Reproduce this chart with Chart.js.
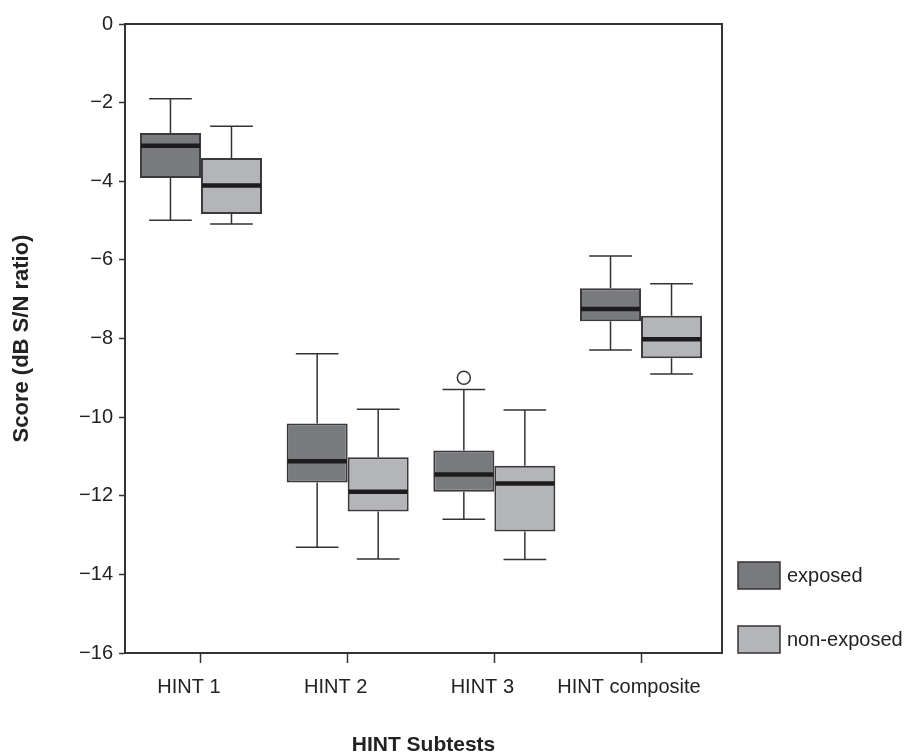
<!DOCTYPE html>
<html><head><meta charset="utf-8">
<script src="https://cdn.jsdelivr.net/npm/chart.js@4/dist/chart.umd.min.js"></script>
<style>html,body{margin:0;padding:0;background:#fff}#wrap{width:910px;height:753px}</style>
</head><body><div id="wrap"><canvas id="c" width="910" height="753"></canvas></div>
<script>
const categories = ['HINT 1', 'HINT 2', 'HINT 3', 'HINT composite'];
const seriesNames = ['exposed', 'non-exposed'];

const exposedMin     = [-4.99, -13.31, -12.60, -8.29];
const exposedQ1      = [-3.92, -11.66, -11.90, -7.56];
const exposedMedian  = [-3.10, -11.12, -11.46, -7.25];
const exposedQ3      = [-2.77, -10.16, -10.85, -6.72];
const exposedMax     = [-1.90,  -8.39,  -9.30, -5.90];
const exposedOutliers = [[], [], [-9.0], []];

const nonExposedMin     = [-5.09, -13.61, -13.62, -8.90];
const nonExposedQ1      = [-4.83, -12.40, -12.91, -8.50];
const nonExposedMedian  = [-4.11, -11.90, -11.69, -8.02];
const nonExposedQ3      = [-3.41, -11.02, -11.24, -7.42];
const nonExposedMax     = [-2.60,  -9.80,  -9.82, -6.61];
const nonExposedOutliers = [[], [], [], []];

const yTicks = [0, -2, -4, -6, -8, -10, -12, -14, -16];

const seriesStats = [
  {min: exposedMin, q1: exposedQ1, med: exposedMedian, q3: exposedQ3, max: exposedMax, out: exposedOutliers},
  {min: nonExposedMin, q1: nonExposedQ1, med: nonExposedMedian, q3: nonExposedQ3, max: nonExposedMax, out: nonExposedOutliers}
];
const fills = ['#797a7e', '#b4b5b9'];
const INK = '#333333';
const FONT = '"Liberation Sans", Arial, Helvetica, sans-serif';

const boxPlugin = {
  id: 'boxparts',
  afterDatasetsDraw(chart) {
    const ctx = chart.ctx, ys = chart.scales.y;
    seriesStats.forEach((st, d) => {
      const meta = chart.getDatasetMeta(d);
      meta.data.forEach((el, i) => {
        const cx = el.x, w = el.width, cap = w * 0.7;
        const p = v => ys.getPixelForValue(v);
        ctx.save();
        ctx.strokeStyle = INK; ctx.lineWidth = 1.5;
        ctx.beginPath();
        ctx.moveTo(cx, p(st.q3[i])); ctx.lineTo(cx, p(st.max[i]));
        ctx.moveTo(cx - cap / 2, p(st.max[i])); ctx.lineTo(cx + cap / 2, p(st.max[i]));
        ctx.moveTo(cx, p(st.q1[i])); ctx.lineTo(cx, p(st.min[i]));
        ctx.moveTo(cx - cap / 2, p(st.min[i])); ctx.lineTo(cx + cap / 2, p(st.min[i]));
        ctx.stroke();
        // median
        ctx.strokeStyle = '#1c1c1c'; ctx.lineWidth = 4.5;
        ctx.beginPath();
        ctx.moveTo(cx - w / 2 + 1, p(st.med[i])); ctx.lineTo(cx + w / 2 - 1, p(st.med[i]));
        ctx.stroke();
        // outliers
        st.out[i].forEach(v => {
          ctx.beginPath();
          ctx.arc(cx, p(v), 6.5, 0, Math.PI * 2);
          ctx.fillStyle = '#fff'; ctx.fill();
          ctx.strokeStyle = INK; ctx.lineWidth = 1.5; ctx.stroke();
        });
        ctx.restore();
      });
    });
  },
  afterDraw(chart) {
    const ctx = chart.ctx, a = chart.chartArea;
    ctx.save();
    ctx.strokeStyle = INK; ctx.lineWidth = 2;
    ctx.beginPath();
    ctx.moveTo(a.left, a.top); ctx.lineTo(a.right, a.top); ctx.lineTo(a.right, a.bottom);
    ctx.stroke();
    const tops = [a.bottom - 91, a.bottom - 27];
    chart.data.datasets.forEach((ds, d) => {
      const x = a.right + 16, y = tops[d];
      ctx.fillStyle = ds.backgroundColor;
      ctx.fillRect(x, y, 42, 27);
      ctx.strokeStyle = INK; ctx.lineWidth = 1.5;
      ctx.strokeRect(x, y, 42, 27);
      ctx.fillStyle = '#222';
      ctx.font = '20px ' + FONT;
      ctx.textBaseline = 'middle'; ctx.textAlign = 'left';
      ctx.fillText(ds.label, x + 49, y + 14);
    });
    ctx.restore();
  }
};

new Chart(document.getElementById('c'), {
  type: 'bar',
  data: {
    datasets: seriesStats.map((st, d) => ({
      label: seriesNames[d],
      data: categories.map((c, i) => ({x: i, y: [st.q1[i], st.q3[i]]})),
      backgroundColor: fills[d],
      borderColor: '#3a3a3a',
      borderWidth: 2,
      borderSkipped: false,
      categoryPercentage: 0.832,
      barPercentage: 1.0
    }))
  },
  options: {
    responsive: false,
    animation: false,
    devicePixelRatio: 1,
    layout: {padding: {top: 24, right: 188, left: 0, bottom: 0}},
    plugins: {legend: {display: false}, tooltip: {enabled: false}},
    scales: {
      x: {
        type: 'linear', min: -0.518, max: 3.552, offset: false,
        afterBuildTicks: s => { s.ticks = categories.map((c, i) => ({value: i})); },
        afterFit: s => { s.height = 100; },
        grid: {drawOnChartArea: false, drawTicks: true, tickLength: 10, color: INK, tickWidth: 1.5, offset: false},
        border: {display: true, color: INK, width: 2},
        ticks: {
          autoSkip: false, maxRotation: 0, minRotation: 0, padding: 12, labelOffset: -12,
          color: '#222', font: {family: FONT, size: 20},
          callback: (v, i) => categories[i]
        },
        title: {display: true, text: 'HINT Subtests', color: '#222',
          font: {family: FONT, size: 21, weight: 'bold', lineHeight: 0.7}, padding: {top: 0, bottom: 0}}
      },
      y: {
        min: -16, max: 0,
        afterBuildTicks: s => { s.ticks = yTicks.map(v => ({value: v})); },
        afterFit: s => { s.width = 125; },
        grid: {drawOnChartArea: false, drawTicks: true, tickLength: 6, color: INK, tickWidth: 1.5},
        border: {display: true, color: INK, width: 2},
        ticks: {
          padding: 6, color: '#222', font: {family: FONT, size: 20},
          callback: v => v === 0 ? '0' : '\u2212' + Math.abs(v)
        },
        title: {display: true, text: 'Score (dB S/N ratio)', color: '#222',
          font: {family: FONT, size: 22, weight: 'bold', lineHeight: 1}, padding: {top: 11, bottom: 0}}
      }
    }
  },
  plugins: [boxPlugin]
});
</script>
</body></html>
